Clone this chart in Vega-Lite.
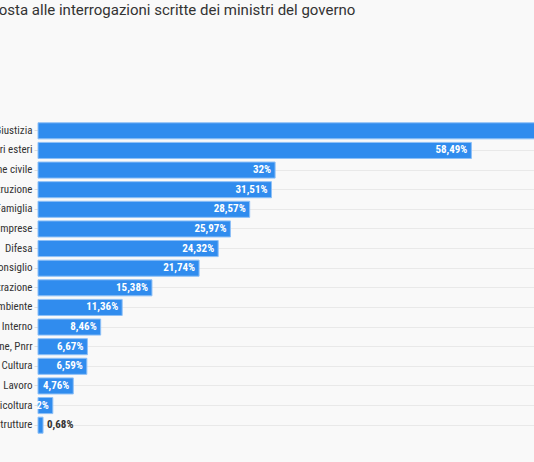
{
  "$schema": "https://vega.github.io/schema/vega-lite/v6.json",
  "autosize": "none",
  "padding": {"left": 38, "top": 121, "right": 0, "bottom": 27},
  "width": 496,
  "height": 314,
  "background": "#f9f9f9",
  "title": {
    "text": "Tasso di risposta alle interrogazioni scritte dei ministri del governo",
    "anchor": "start",
    "frame": "group",
    "dx": -124,
    "offset": 103,
    "font": "Roboto",
    "fontSize": 15,
    "fontWeight": "normal",
    "color": "#333333"
  },
  "data": {
    "values": [
      {"ministero": "Giustizia", "share": 0.75},
      {"ministero": "Affari esteri", "share": 0.5849},
      {"ministero": "Protezione civile", "share": 0.32},
      {"ministero": "Istruzione", "share": 0.3151},
      {"ministero": "Famiglia", "share": 0.2857},
      {"ministero": "Imprese", "share": 0.2597},
      {"ministero": "Difesa", "share": 0.2432},
      {"ministero": "Presidenza del consiglio", "share": 0.2174},
      {"ministero": "Pubblica amministrazione", "share": 0.1538},
      {"ministero": "Ambiente", "share": 0.1136},
      {"ministero": "Interno", "share": 0.0846},
      {"ministero": "Affari europei, Sud, coesione, Pnrr", "share": 0.0667},
      {"ministero": "Cultura", "share": 0.0659},
      {"ministero": "Lavoro", "share": 0.0476},
      {"ministero": "Agricoltura", "share": 0.02},
      {"ministero": "Infrastrutture", "share": 0.0068}
    ]
  },
  "encoding": {
    "y": {
      "field": "ministero",
      "type": "nominal",
      "sort": null,
      "scale": {"paddingInner": 0.18, "paddingOuter": 0.09},
      "axis": {
        "title": null,
        "domain": false,
        "grid": true,
        "gridColor": "#e9e9e9",
        "ticks": true,
        "tickColor": "#dddddd",
        "tickSize": 4,
        "labelPadding": 2,
        "labelFont": "Roboto Condensed, Liberation Sans Narrow, Roboto",
        "labelFontSize": 11,
        "labelColor": "#333333",
        "labelLimit": 600
      }
    },
    "x": {
      "field": "share",
      "type": "quantitative",
      "scale": {"domain": [0, 0.6694], "nice": false, "zero": true},
      "axis": null
    }
  },
  "layer": [
    {
      "mark": {"type": "bar", "color": "#308cee", "stroke": "#8ec0f7", "strokeWidth": 1}
    },
    {
      "transform": [{"filter": "datum.share >= 0.01"}],
      "mark": {
        "type": "text",
        "align": "right",
        "baseline": "middle",
        "dx": -4,
        "color": "#ffffff",
        "font": "Roboto Condensed, Liberation Sans Narrow, Roboto",
        "fontSize": 11,
        "fontWeight": "bold"
      },
      "encoding": {"text": {"field": "share", "type": "quantitative", "format": ".2~%"}}
    },
    {
      "transform": [{"filter": "datum.share < 0.01"}],
      "mark": {
        "type": "text",
        "align": "left",
        "baseline": "middle",
        "dx": 4,
        "color": "#333333",
        "font": "Roboto Condensed, Liberation Sans Narrow, Roboto",
        "fontSize": 11,
        "fontWeight": "bold"
      },
      "encoding": {"text": {"field": "share", "type": "quantitative", "format": ".2~%"}}
    }
  ],
  "config": {
    "view": {"stroke": null},
    "locale": {
      "number": {"decimal": ",", "thousands": ".", "grouping": [3], "currency": ["", " €"]}
    }
  }
}
